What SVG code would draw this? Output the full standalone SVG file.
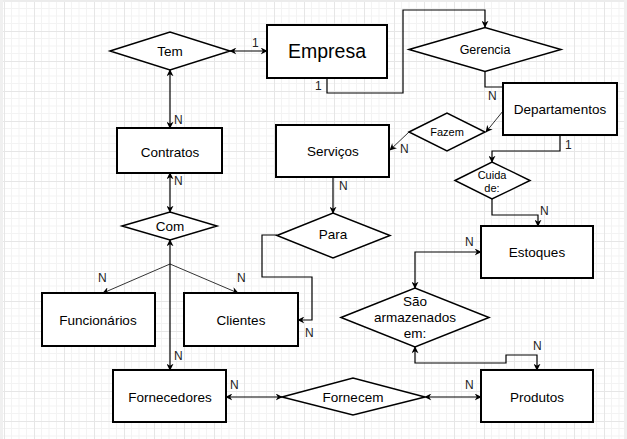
<svg xmlns="http://www.w3.org/2000/svg" width="627" height="439" viewBox="0 0 627 439">
<defs>
<pattern id="grid" patternUnits="userSpaceOnUse" x="4" y="1" width="30" height="30">
<path d="M7.5 0V30M15 0V30M22.5 0V30M0 7.5H30M0 15H30M0 22.5H30" stroke="#f3f3f3" stroke-width="1" fill="none"/>
<path d="M0.5 0V30M0 0.5H30" stroke="#e6e6e6" stroke-width="1" fill="none"/>
</pattern>
<marker id="ah" viewBox="0 0 10 10" refX="9" refY="5" markerWidth="7" markerHeight="7" orient="auto-start-reverse" markerUnits="userSpaceOnUse">
<path d="M0 0L10 5L0 10L3 5Z" fill="#000"/>
</marker>
</defs>
<style>
.box{fill:#fff;stroke:#000;stroke-width:2}
.dia{fill:#fff;stroke:#000;stroke-width:1.5}
.t{font-family:"Liberation Sans",Arial,sans-serif;font-size:13.5px;fill:#000;text-anchor:middle;dominant-baseline:central}
.s{font-size:11px}
.lbl{font-family:"Liberation Sans",Arial,sans-serif;font-size:12px;fill:#222}
.c{fill:none;stroke:#000;stroke-width:1.2}
.th{fill:none;stroke:#000;stroke-width:0.8}
.e{marker-end:url(#ah)}
.b{marker-start:url(#ah);marker-end:url(#ah)}
</style>
<rect width="627" height="439" fill="#fff"/>
<rect width="627" height="439" fill="url(#grid)"/>
<rect x="0" y="0" width="627" height="2" fill="#ececec"/>
<rect x="0" y="0" width="3" height="439" fill="#f0f0f0"/>
<rect x="624" y="0" width="3" height="439" fill="#f0f0f0"/>

<g id="connectors">
<line class="c b" x1="230" y1="51" x2="267" y2="51"/>
<polyline class="c e" points="327,78 327,93 403,93 403,10 485,10 485,27"/>
<polyline class="c" points="485,72 485,87 503,87"/>
<line class="th e" x1="503" y1="111" x2="486" y2="132"/>
<line class="th e" x1="409" y1="132" x2="390" y2="150"/>
<polyline class="c e" points="560,135 560,151 492,151 492,162"/>
<polyline class="c e" points="492,199 492,215 538,215 538,226"/>
<line class="c e" x1="333" y1="177" x2="333" y2="213"/>
<polyline class="c e" points="277,235 262,235 262,277 312,277 312,320 298,320"/>
<line class="c b" x1="170" y1="70" x2="170" y2="128"/>
<line class="c b" x1="170" y1="173" x2="170" y2="212"/>
<line class="c" x1="170" y1="264" x2="170" y2="240" marker-end="url(#ah)"/>
<line class="c e" x1="170" y1="264" x2="170" y2="370"/>
<line class="th e" x1="170" y1="264" x2="103" y2="293"/>
<line class="th e" x1="170" y1="264" x2="238" y2="293"/>
<line class="c b" x1="226" y1="397" x2="282" y2="397"/>
<line class="c b" x1="425" y1="397" x2="481" y2="397"/>
<polyline class="c b" points="481,252 415,252 415,288"/>
<polyline class="c b" points="537,370 537,355 506,355 506,363 415,363 415,347"/>
</g>

<g id="labels">
<text class="lbl" x="252" y="47">1</text>
<text class="lbl" x="315" y="90">1</text>
<text class="lbl" x="488" y="100">N</text>
<text class="lbl" x="565" y="149">1</text>
<text class="lbl" x="400" y="153">N</text>
<text class="lbl" x="339" y="190">N</text>
<text class="lbl" x="540" y="215">N</text>
<text class="lbl" x="465" y="246">N</text>
<text class="lbl" x="305" y="337">N</text>
<text class="lbl" x="174" y="124">N</text>
<text class="lbl" x="174" y="185">N</text>
<text class="lbl" x="98" y="282">N</text>
<text class="lbl" x="237" y="282">N</text>
<text class="lbl" x="174" y="360">N</text>
<text class="lbl" x="230" y="389">N</text>
<text class="lbl" x="465" y="389">N</text>
<text class="lbl" x="533" y="350">N</text>
</g>

<g id="tem"><polygon class="dia" points="110,51 170,32 230,51 170,70"/><text class="t" x="170" y="51">Tem</text></g>
<g id="empresa"><rect class="box" x="267" y="25" width="120" height="53"/><text class="t" x="327" y="51" style="font-size:19.5px">Empresa</text></g>
<g id="gerencia"><polygon class="dia" points="409,49.5 485,27.5 561,49.5 485,71.5"/><text class="t" x="485" y="49.5" style="font-size:12.5px">Gerencia</text></g>
<g id="departamentos"><rect class="box" x="503" y="83" width="114" height="52"/><text class="t" x="560" y="109">Departamentos</text></g>
<g id="fazem"><polygon class="dia" points="409,132 447,113 485,132 447,151"/><text class="t s" x="447" y="132">Fazem</text></g>
<g id="servicos"><rect class="box" x="276" y="125" width="113" height="52"/><text class="t" x="333" y="151">Serviços</text></g>
<g id="cuida"><polygon class="dia" points="455,180.5 492,162 530,180.5 492,199"/><text class="t s" x="492" y="175">Cuida</text><text class="t s" x="492" y="188">de:</text></g>
<g id="estoques"><rect class="box" x="481" y="226" width="112" height="52"/><text class="t" x="537" y="252">Estoques</text></g>
<g id="para"><polygon class="dia" points="277,235.5 333,213 390,235.5 333,258"/><text class="t" x="333" y="234">Para</text></g>
<g id="contratos"><rect class="box" x="117" y="128" width="105" height="45"/><text class="t" x="170" y="152">Contratos</text></g>
<g id="com"><polygon class="dia" points="122,226 170,212 217,226 170,240"/><text class="t" x="170" y="226">Com</text></g>
<g id="funcionarios"><rect class="box" x="42" y="293" width="113" height="53"/><text class="t" x="98" y="320">Funcionários</text></g>
<g id="clientes"><rect class="box" x="184" y="293" width="114" height="53"/><text class="t" x="241" y="320">Clientes</text></g>
<g id="sao"><polygon class="dia" points="341,317.5 415,288 489,317.5 415,347"/><text class="t" x="415" y="301">São</text><text class="t" x="415" y="317">armazenados</text><text class="t" x="415" y="333">em:</text></g>
<g id="fornecedores"><rect class="box" x="113" y="370" width="113" height="52"/><text class="t" x="170" y="397">Fornecedores</text></g>
<g id="fornecem"><polygon class="dia" points="282,397 353,378 425,397 353,415"/><text class="t" x="353" y="397">Fornecem</text></g>
<g id="produtos"><rect class="box" x="481" y="370" width="112" height="52"/><text class="t" x="537" y="397">Produtos</text></g>
</svg>
